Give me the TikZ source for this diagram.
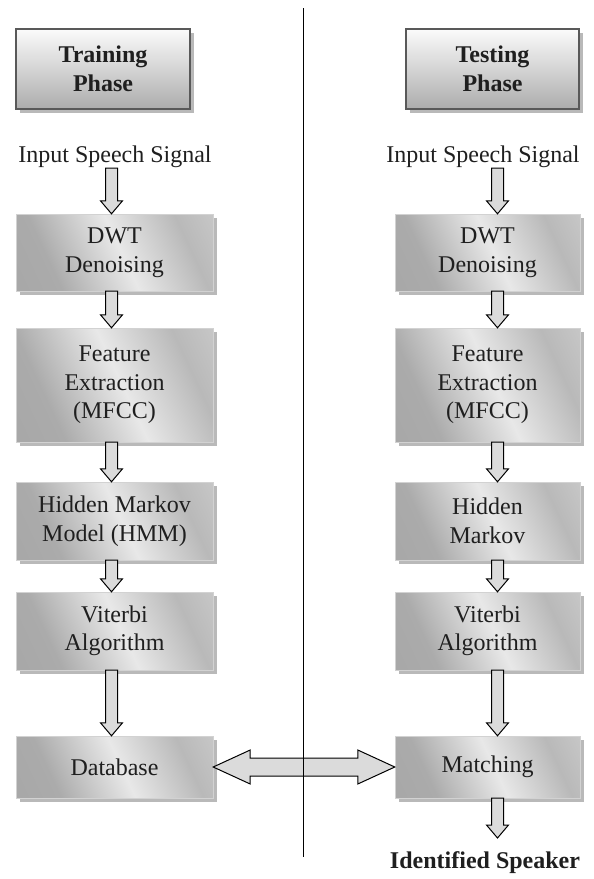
\documentclass[tikz,border=0pt]{standalone}
\usepackage{fontspec}
\setmainfont{Liberation Serif}
\usetikzlibrary{calc,shadows}

\pgfdeclarehorizontalshading{metalbox}{100bp}{color(0bp)=(gray!72); color(30bp)=(gray!66); color(52bp)=(gray!18); color(72bp)=(gray!55); color(100bp)=(gray!28)}

\newcommand{\downflow}[3]{%
  \draw[flowarrow] let \p1=(#1), \p2=(#2), \p3=(#3) in
    (\x1-6pt,\y2) -- (\x1-6pt,\y3+13pt) -- (\x1-11pt,\y3+13pt) -- (\x1,\y3)
    -- (\x1+11pt,\y3+13pt) -- (\x1+6pt,\y3+13pt) -- (\x1+6pt,\y2) -- cycle;}

\begin{document}
\begin{tikzpicture}[x=1pt,y=-1pt,
  every node/.style={inner sep=0pt, text=black!88, align=center, font=\fontsize{24}{28.5}\selectfont},
  boxshadow/.style={drop shadow={shadow xshift=3.5pt, shadow yshift=-3.5pt, fill=gray!55, opacity=1}},
  phasebox/.style={boxshadow, draw=black!65, line width=1.6pt, top color=gray!3, bottom color=gray!65, minimum height=80pt, font=\fontsize{24}{29}\selectfont\bfseries},
  procbox/.style={boxshadow, draw=gray!35, line width=0.4pt, shading=metalbox, shading angle=25},
  leftbox/.style={procbox, minimum width=197pt},
  rightbox/.style={procbox, minimum width=185pt},
  flowarrow/.style={draw=black, line width=1pt, fill=gray!28, line join=miter}]
\useasboundingbox (0,0) rectangle (594,879);

\node[phasebox, minimum width=174pt] (trainP) at (103,69) {Training\\Phase};
\node[phasebox, minimum width=173pt] (testP) at (492.5,69) {Testing\\Phase};

\node (inL) at (115,157) {Input Speech Signal};
\node (inR) at (483,157) {Input Speech Signal};

\node[leftbox, minimum height=77pt] (dwtL) at (114.5,252.5) {DWT\\Denoising};
\node[leftbox, minimum height=114pt] (featL) at (114.5,385) {Feature\\Extraction\\(MFCC)};
\node[leftbox, minimum height=78pt] (hmmL) at (114.5,521) {Hidden Markov\\Model (HMM)};
\node[leftbox, minimum height=78pt] (vitL) at (114.5,631) {Viterbi\\Algorithm};
\node[leftbox, minimum height=62pt] (dbL) at (114.5,767) {Database};

\node[rightbox, minimum height=77pt] (dwtR) at (487.5,252.5) {DWT\\Denoising};
\node[rightbox, minimum height=114pt] (featR) at (487.5,385) {Feature\\Extraction\\(MFCC)};
\node[rightbox, minimum height=78pt] (hmmR) at (487.5,521) {Hidden\\Markov};
\node[rightbox, minimum height=78pt] (vitR) at (487.5,631) {Viterbi\\Algorithm};
\node[rightbox, minimum height=62pt] (matchR) at (487.5,767) {Matching};

\node[font=\fontsize{24}{28}\selectfont\bfseries] (spk) at (485,863) {Identified Speaker};

\coordinate (colL) at (111.5,0);
\coordinate (colR) at (497.5,0);
\coordinate (spkTip) at (497.5,838);
\coordinate (lineTop) at (303,8);
\coordinate (lineBot) at (303,857);

\downflow{colL}{inL.south}{dwtL.north}
\downflow{colL}{dwtL.south}{featL.north}
\downflow{colL}{featL.south}{hmmL.north}
\downflow{colL}{hmmL.south}{vitL.north}
\downflow{colL}{vitL.south}{dbL.north}

\downflow{colR}{inR.south}{dwtR.north}
\downflow{colR}{dwtR.south}{featR.north}
\downflow{colR}{featR.south}{hmmR.north}
\downflow{colR}{hmmR.south}{vitR.north}
\downflow{colR}{vitR.south}{matchR.north}
\downflow{colR}{matchR.south}{spkTip}

\draw[flowarrow] let \p1=(dbL.east), \p2=(matchR.west) in
  (\x1,\y1) -- (\x1+37pt,\y1+17pt) -- (\x1+37pt,\y1+9pt) -- (\x2-37pt,\y1+9pt)
  -- (\x2-37pt,\y1+17pt) -- (\x2,\y1) -- (\x2-37pt,\y1-17pt) -- (\x2-37pt,\y1-9pt)
  -- (\x1+37pt,\y1-9pt) -- (\x1+37pt,\y1-17pt) -- cycle;

\draw[line width=1pt] (lineTop) -- (lineBot);
\end{tikzpicture}
\end{document}
